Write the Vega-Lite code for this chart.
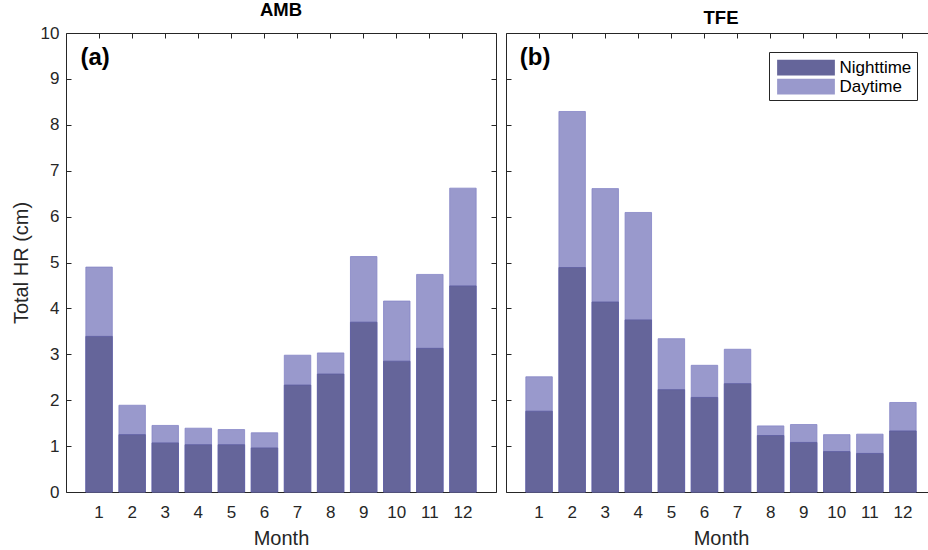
{
  "$schema": "https://vega.github.io/schema/vega-lite/v6.json",
  "padding": {"left": 10, "top": 0, "right": 0, "bottom": 0},
  "background": "white",
  "datasets": {
    "hr": [
      {"site": "AMB", "month": 1, "night": 3.39, "total": 4.90},
      {"site": "AMB", "month": 2, "night": 1.25, "total": 1.89},
      {"site": "AMB", "month": 3, "night": 1.07, "total": 1.45},
      {"site": "AMB", "month": 4, "night": 1.03, "total": 1.39},
      {"site": "AMB", "month": 5, "night": 1.03, "total": 1.36},
      {"site": "AMB", "month": 6, "night": 0.96, "total": 1.29},
      {"site": "AMB", "month": 7, "night": 2.33, "total": 2.98},
      {"site": "AMB", "month": 8, "night": 2.57, "total": 3.03},
      {"site": "AMB", "month": 9, "night": 3.70, "total": 5.13},
      {"site": "AMB", "month": 10, "night": 2.85, "total": 4.16},
      {"site": "AMB", "month": 11, "night": 3.13, "total": 4.74},
      {"site": "AMB", "month": 12, "night": 4.49, "total": 6.62},
      {"site": "TFE", "month": 1, "night": 1.76, "total": 2.51},
      {"site": "TFE", "month": 2, "night": 4.89, "total": 8.29},
      {"site": "TFE", "month": 3, "night": 4.14, "total": 6.61},
      {"site": "TFE", "month": 4, "night": 3.75, "total": 6.09},
      {"site": "TFE", "month": 5, "night": 2.23, "total": 3.34},
      {"site": "TFE", "month": 6, "night": 2.06, "total": 2.76},
      {"site": "TFE", "month": 7, "night": 2.36, "total": 3.11},
      {"site": "TFE", "month": 8, "night": 1.23, "total": 1.44},
      {"site": "TFE", "month": 9, "night": 1.08, "total": 1.47},
      {"site": "TFE", "month": 10, "night": 0.88, "total": 1.25},
      {"site": "TFE", "month": 11, "night": 0.84, "total": 1.26},
      {"site": "TFE", "month": 12, "night": 1.33, "total": 1.95}
    ],
    "labels": [
      {"site": "AMB", "label": "(a)", "month": 1, "y": 9.45},
      {"site": "TFE", "label": "(b)", "month": 1, "y": 9.45}
    ]
  },
  "config": {
    "font": "Liberation Sans",
    "view": {"stroke": "#262626", "strokeWidth": 1},
    "axis": {
      "grid": false,
      "domain": false,
      "tickColor": "#262626",
      "tickSize": -5,
      "labelColor": "#262626",
      "labelFontSize": 17,
      "labelFont": "Liberation Sans",
      "titleFont": "Liberation Sans",
      "titleFontSize": 20,
      "titleFontWeight": "normal",
      "titleColor": "#262626",
      "labelAngle": 0
    },
    "title": {"fontSize": 18.5, "fontWeight": "bold", "color": "#000000", "font": "Liberation Sans"}
  },
  "spacing": 8,
  "resolve": {"scale": {"color": "independent"}},
  "hconcat": [
    {
      "title": {"text": "AMB", "offset": 5},
      "width": 430,
      "height": 459,
      "layer": [
        {
          "data": {"name": "hr"},
          "transform": [{"filter": "datum.site === 'AMB'"}],
          "mark": {"type": "bar", "stroke": "#8585c6", "strokeWidth": 0.8},
          "encoding": {
            "x": {"field": "month", "type": "ordinal", "scale": {"type": "band", "paddingInner": 0.2, "paddingOuter": 0.6},
                  "axis": {"orient": "bottom", "title": "Month", "labelPadding": 17, "titlePadding": 8}},
            "y": {"field": "total", "type": "quantitative", "scale": {"domain": [0, 10]},
                  "axis": {"orient": "left", "values": [0,1,2,3,4,5,6,7,8,9,10], "title": "Total HR (cm)", "labelPadding": 12, "titlePadding": 9}},
            "color": {"datum": "Daytime", "scale": {"domain": ["Nighttime", "Daytime"], "range": ["#65659a", "#9999cc"]}, "legend": null}
          }
        },
        {
          "data": {"name": "hr"},
          "transform": [{"filter": "datum.site === 'AMB'"}],
          "mark": {"type": "bar", "stroke": "#5d5da0", "strokeWidth": 0.8},
          "encoding": {
            "x": {"field": "month", "type": "ordinal", "axis": null},
            "y": {"field": "night", "type": "quantitative", "axis": null},
            "color": {"datum": "Nighttime", "legend": null}
          }
        },
        {
          "data": {"name": "labels"},
          "transform": [{"filter": "datum.site === 'AMB'"}],
          "mark": {"type": "text", "fontSize": 24, "fontWeight": "bold", "align": "center", "baseline": "middle", "color": "#000000", "dx": -4},
          "encoding": {
            "x": {"field": "month", "type": "ordinal", "axis": null},
            "y": {"field": "y", "type": "quantitative", "axis": null},
            "text": {"field": "label"}
          }
        },
        {
          "data": {"name": "hr"},
          "transform": [{"filter": "datum.site === 'AMB'"}],
          "mark": {"type": "point", "opacity": 0},
          "encoding": {
            "x": {"field": "month", "type": "ordinal", "axis": {"orient": "top", "labels": false, "title": null}},
            "y": {"field": "total", "type": "quantitative", "axis": {"orient": "right", "values": [0,1,2,3,4,5,6,7,8,9,10], "labels": false, "title": null}}
          }
        }
      ],
      "resolve": {"axis": {"x": "independent", "y": "independent"}}
    },
    {
      "title": {"text": "TFE", "offset": 5},
      "width": 430,
      "height": 459,
      "layer": [
        {
          "data": {"name": "hr"},
          "transform": [{"filter": "datum.site === 'TFE'"}],
          "mark": {"type": "bar", "stroke": "#8585c6", "strokeWidth": 0.8},
          "encoding": {
            "x": {"field": "month", "type": "ordinal", "scale": {"type": "band", "paddingInner": 0.2, "paddingOuter": 0.6},
                  "axis": {"orient": "bottom", "title": "Month", "labelPadding": 17, "titlePadding": 8}},
            "y": {"field": "total", "type": "quantitative", "scale": {"domain": [0, 10]},
                  "axis": {"orient": "left", "values": [0,1,2,3,4,5,6,7,8,9,10], "labels": false, "title": null}},
            "color": {"datum": "Daytime", "scale": {"domain": ["Nighttime", "Daytime"], "range": ["#65659a", "#9999cc"]},
                      "legend": {"orient": "top-right", "offset": 19, "title": null,
                                 "symbolType": "M-2.75,-0.75H2.75V0.75H-2.75Z", "symbolSize": 441, "symbolStrokeWidth": 0,
                                 "symbolOffset": 21.5, "labelOffset": 23, "labelFontSize": 17, "labelColor": "#000000",
                                 "strokeColor": "#262626", "fillColor": "white", "padding": 5, "rowPadding": 0}}
          }
        },
        {
          "data": {"name": "hr"},
          "transform": [{"filter": "datum.site === 'TFE'"}],
          "mark": {"type": "bar", "stroke": "#5d5da0", "strokeWidth": 0.8},
          "encoding": {
            "x": {"field": "month", "type": "ordinal", "axis": null},
            "y": {"field": "night", "type": "quantitative", "axis": null},
            "color": {"datum": "Nighttime"}
          }
        },
        {
          "data": {"name": "labels"},
          "transform": [{"filter": "datum.site === 'TFE'"}],
          "mark": {"type": "text", "fontSize": 24, "fontWeight": "bold", "align": "center", "baseline": "middle", "color": "#000000", "dx": -4},
          "encoding": {
            "x": {"field": "month", "type": "ordinal", "axis": null},
            "y": {"field": "y", "type": "quantitative", "axis": null},
            "text": {"field": "label"}
          }
        },
        {
          "data": {"name": "hr"},
          "transform": [{"filter": "datum.site === 'TFE'"}],
          "mark": {"type": "point", "opacity": 0},
          "encoding": {
            "x": {"field": "month", "type": "ordinal", "axis": {"orient": "top", "labels": false, "title": null}},
            "y": {"field": "total", "type": "quantitative", "axis": {"orient": "right", "values": [0,1,2,3,4,5,6,7,8,9,10], "labels": false, "title": null}}
          }
        }
      ],
      "resolve": {"axis": {"x": "independent", "y": "independent"}}
    }
  ]
}
